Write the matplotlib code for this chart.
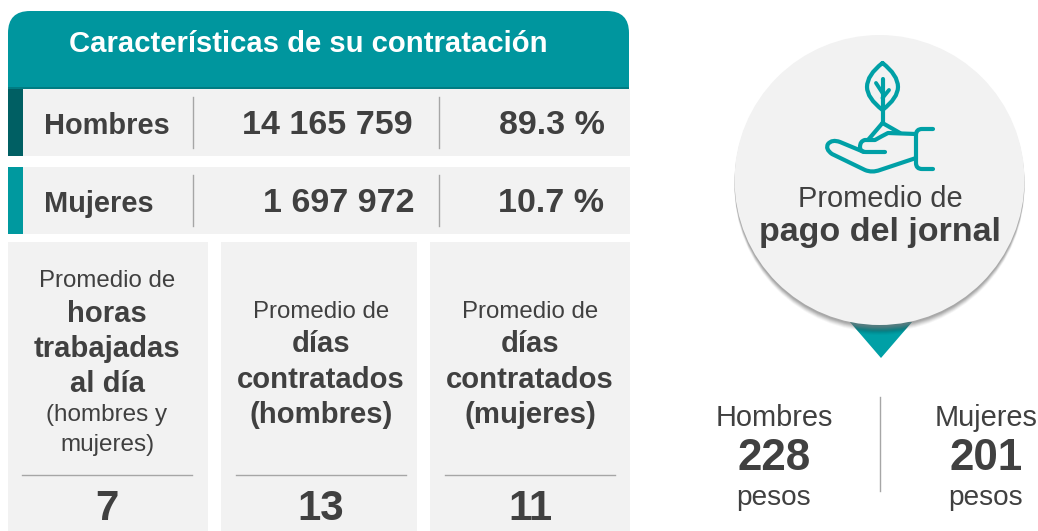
import matplotlib
matplotlib.use("Agg")
import matplotlib.pyplot as plt
from matplotlib.patches import Rectangle, Circle, Polygon, FancyBboxPatch, PathPatch
from matplotlib.path import Path

plt.rcParams['font.family'] = ['Liberation Sans', 'DejaVu Sans']

title = "Características de su contratación"
row_labels = ["Hombres", "Mujeres"]
row_counts = ["14 165 759", "1 697 972"]
row_shares = ["89.3 %", "10.7 %"]
panel_values = ["7", "13", "11"]
pay_labels = ["Hombres", "Mujeres"]
pay_values = ["228", "201"]

TEAL = "#00969E"; DARK = "#005F63"; STRIPE = "#00999F"; ICON = "#00A0A6"
GREY = "#F2F2F2"; INK = "#404040"; RULE = "#A6A6A6"

fig = plt.figure(figsize=(10.38, 5.31), dpi=100)
ax = fig.add_axes([0, 0, 1, 1])
ax.set_xlim(0, 1038); ax.set_ylim(531, 0); ax.axis("off")

def T(x, y, s, size, bold=False, color=INK, ha="center"):
    ax.text(x, y + 3, s, fontsize=size * 0.72, fontweight="bold" if bold else "normal",
            color=color, ha=ha, va="center")

# header: rounded top, square bottom
ax.add_patch(FancyBboxPatch((8 + 22, 11 + 22), 621 - 44, 78, boxstyle="round,pad=22,rounding_size=22",
                            fc=TEAL, ec="none"))
ax.add_patch(Rectangle((8, 60), 621, 29, fc=TEAL, ec="none"))
ax.add_patch(Rectangle((0, 89), 1038, 442, fc="white", ec="none"))
ax.add_patch(Rectangle((8, 87), 621, 2, fc="#007C82", ec="none"))
T(308, 41, title, 29.3, True, "white")

# rows
for y0, stripe, lab, cnt, shr, cx in zip([89, 167], [DARK, STRIPE], row_labels, row_counts, row_shares, [327, 339]):
    ax.add_patch(Rectangle((8, y0), 622, 67, fc=GREY, ec="none"))
    ax.add_patch(Rectangle((8, y0), 15, 67, fc=stripe, ec="none"))
    ym = y0 + 34
    T(44, ym - 0.5, lab, 29, True, ha="left")
    T(cx, ym - 0.5, cnt, 34, True)
    T(551.5, ym - 0.5, shr, 34, True)
    for x in (193, 439):
        ax.plot([x, x], [y0 + 8, y0 + 59], color=RULE, lw=1)

# lower panels
panels = [(8, 208, 22, 192, 107), (221, 417, 236, 406, 321), (430, 630, 445, 615, 530)]
for (a, b, c, d, xm), v in zip(panels, panel_values):
    ax.add_patch(Rectangle((a, 242), b - a, 289, fc=GREY, ec="none"))
    ax.plot([c, d], [475, 475], color=RULE, lw=1)
    T(xm, 506, v, 42, True)

T(107, 278, "Promedio de", 24)
T(107, 311, "horas", 29.3, True)
T(107, 346, "trabajadas", 29.3, True)
T(107, 381, "al día", 29.3, True)
T(107, 412, "(hombres y", 24.3)
T(107, 442, "mujeres)", 24.3)
T(321, 309, "Promedio de", 24)
T(321, 341, "días", 29.3, True)
T(321, 377, "contratados", 29.3, True)
T(321, 412, "(hombres)", 29.3, True)
T(530, 309, "Promedio de", 24)
T(530, 341, "días", 29.3, True)
T(530, 377, "contratados", 29.3, True)
T(530, 412, "(mujeres)", 29.3, True)

# pointer and badge with soft shadow
tri = Polygon([(850, 322), (912, 322), (881, 358)], closed=True, fc=ICON, ec="none")
ax.add_patch(tri)
for off, al in [(10, .05), (9, .07), (8, .09), (7, .11), (6, .13)]:
    shade = Circle((879.5, 180 + off), 145, fc="#004448", ec="none", alpha=al)
    ax.add_patch(shade)
    shade.set_clip_path(tri)
for off, al in [(7, .07), (6, .10), (5, .14), (4, .18), (3, .22), (2, .25)]:
    ax.add_patch(Circle((879.5, 180 + off), 145, fc="#7F7F7F", ec="none", alpha=al))
ax.add_patch(Circle((879.5, 180), 145, fc=GREY, ec="none"))

# icon
M, L, Q = Path.MOVETO, Path.LINETO, Path.CURVE3
def stroke(pts, codes=None, lw=3.0):
    p = Path(pts, codes)
    ax.add_patch(PathPatch(p, fc="none", ec=ICON, lw=lw, capstyle="round", joinstyle="round"))

# leaf
stroke([(882.5, 63), (867, 75), (867, 87), (867, 98), (882.5, 110), (898, 98), (898, 87), (898, 75), (882.5, 63)],
       [M, Q, Q, Q, Q, Q, Q, Q, Q])
stroke([(882.5, 79), (882.5, 123)])
stroke([(876, 83), (882.5, 93)], lw=2.8)
stroke([(889, 90), (882.5, 98)], lw=2.8)
# soil
stroke([(882.5, 123), (868, 140)])
stroke([(882.5, 123), (900, 133)])
# cuff
stroke([(933, 129), (922, 129), (916, 129), (916, 135), (916, 163), (916, 169), (922, 169), (933, 169)],
       [M, L, Q, Q, L, Q, Q, L])
# thumb
stroke([(916, 134), (888, 133), (882, 136), (875, 140), (865, 140), (860, 141), (860, 147), (860, 152), (866, 152), (885, 152)],
       [M, L, Q, Q, L, Q, Q, Q, Q, L])
# fingers
stroke([(916, 158), (880, 170), (872, 173), (865, 170), (832, 154), (825, 149), (828, 144), (832, 139), (840, 142), (864, 152)],
       [M, L, Q, Q, L, Q, Q, Q, Q, L])

T(880, 196, "Promedio de", 29)
T(880, 230, "pago del jornal", 34, True)

# pay figures
ax.plot([880, 880], [397, 491], color=RULE, lw=1)
for xm, lab, v in zip([774, 986], pay_labels, pay_values):
    T(xm, 415, lab, 29)
    T(xm, 455, v, 44, True)
    T(xm, 495, "pesos", 28)

fig.savefig("out.png", dpi=100)
